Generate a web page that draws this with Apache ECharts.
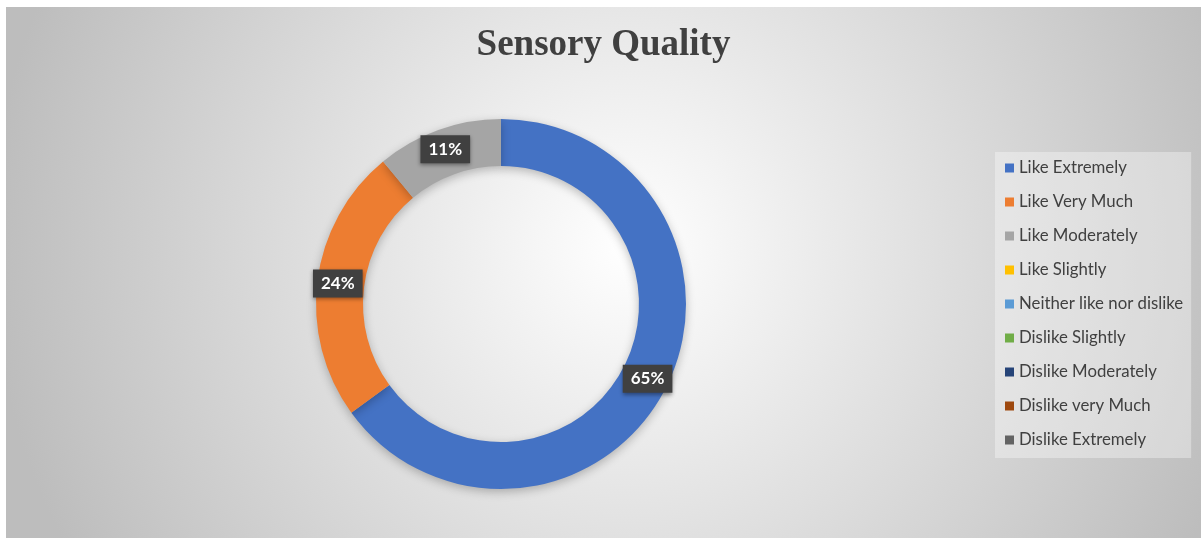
<!DOCTYPE html>
<html>
<head>
<meta charset="utf-8">
<script src="https://cdn.jsdelivr.net/npm/echarts@6/dist/echarts.min.js"></script>
<style>
  html, body { margin: 0; padding: 0; background: #fff; }
  #chart { position: absolute; left: 6px; top: 7px; width: 1195px; height: 531px; }
</style>
</head>
<body>
<div id="chart"></div>
<script>
// 数据
var categories = ['Like Extremely', 'Like Very Much', 'Like Moderately', 'Like Slightly',
  'Neither like nor dislike', 'Dislike Slightly', 'Dislike Moderately', 'Dislike very Much', 'Dislike Extremely'];
var values = [65, 24, 11, 0, 0, 0, 0, 0, 0];
var colors = ['#4472C4', '#ED7D31', '#A5A5A5', '#FFC000', '#5B9BD5', '#70AD47', '#264478', '#9E480E', '#636363'];

function drawChart() {
  var myChart = echarts.init(document.getElementById('chart'));
  var pieData = categories.map(function (name, i) {
    return { name: name, value: values[i], label: { show: values[i] > 0 } };
  });
  var option = {
    backgroundColor: new echarts.graphic.RadialGradient(0.52, 0.45, 1.2, [
      { offset: 0, color: '#ffffff' },
      { offset: 1, color: '#bdbdbd' }
    ]),
    color: colors,
    animation: false,
    title: {
      text: 'Sensory Quality',
      left: 'center',
      top: 15,
      textStyle: { fontFamily: 'Liberation Serif', fontWeight: 'bold', fontSize: 37, color: '#404040' }
    },
    legend: {
      orient: 'vertical',
      left: 989,
      top: 145,
      padding: [7, 8, 9, 10],
      backgroundColor: 'rgba(255,255,255,0.35)',
      icon: 'rect',
      itemWidth: 9,
      itemHeight: 9,
      itemGap: 16,
      selectedMode: false,
      textStyle: { fontFamily: 'Lato', fontSize: 16.8, color: '#404040', lineHeight: 18 },
      data: categories
    },
    series: [{
      type: 'pie',
      center: [495, 297],
      radius: [138, 185],
      startAngle: 90,
      clockwise: true,
      avoidLabelOverlap: false,
      itemStyle: {
        borderWidth: 0,
        shadowBlur: 10,
        shadowColor: 'rgba(0,0,0,0.25)',
        shadowOffsetY: 3
      },
      label: {
        position: 'inside',
        formatter: '{d}%',
        fontFamily: 'Lato',
        fontWeight: 'bold',
        fontSize: 17,
        color: '#ffffff',
        backgroundColor: '#404040',
        padding: [6, 8, 5, 8],
        shadowBlur: 4,
        shadowColor: 'rgba(0,0,0,0.4)',
        shadowOffsetY: 2
      },
      labelLine: { show: false },
      emphasis: { disabled: true },
      data: pieData
    }]
  };
  myChart.setOption(option, true);
}
drawChart();
</script>
</body>
</html>
